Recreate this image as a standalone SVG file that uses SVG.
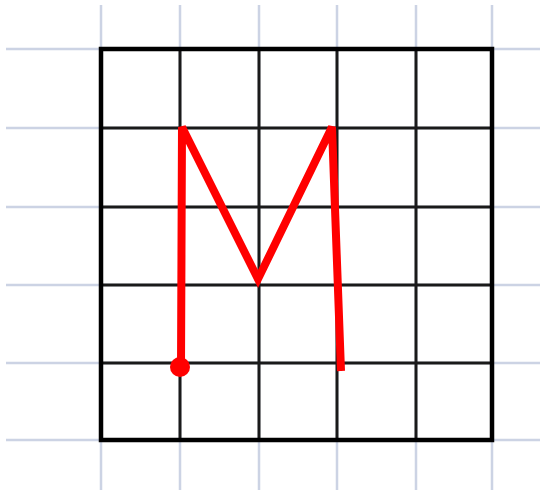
<svg xmlns="http://www.w3.org/2000/svg" width="540" height="495" viewBox="0 0 540 495">
<style>
.light{stroke:#ccd3e4;stroke-width:2.5;fill:none}
.grid{stroke:#1a1a1a;stroke-width:3;fill:none}
.border{stroke:#000;stroke-width:4.5;fill:none}
.m{stroke:#ff0000;stroke-width:8;fill:none;stroke-linejoin:miter;stroke-linecap:butt}
</style>
<rect width="540" height="495" fill="#fff"/>
<g id="lightgrid" class="light">
<path d="M101 5V490M180 5V490M259 5V490M337 5V490M416 5V490M492 5V490"/>
<path d="M6 49H540M6 128H540M6 207H540M6 285H540M6 363H540M6 440H540"/>
</g>
<g id="grid" class="grid">
<path d="M180 49V440M259 49V440M337 49V440M416 49V440"/>
<path d="M101 128H492M101 207H492M101 285H492M101 363H492"/>
</g>
<rect id="border" class="border" x="101" y="49" width="391" height="391"/>
<g id="letter">
<polyline class="m" points="181,368 182,127 258,279 332,127 341,371"/>
<circle cx="180" cy="367" r="10" fill="#ff0000"/>
</g>
</svg>
